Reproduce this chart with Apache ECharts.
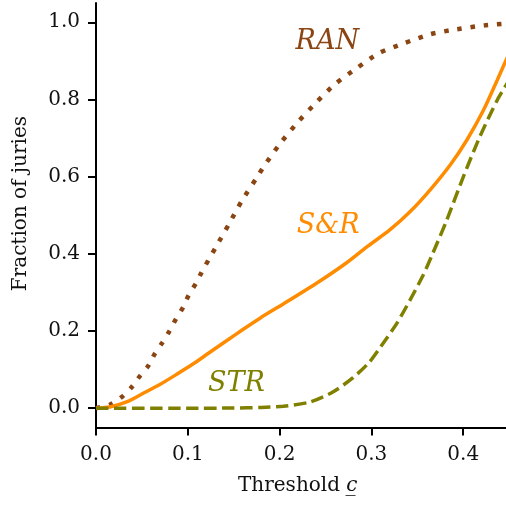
<!DOCTYPE html>
<html>
<head>
<meta charset="utf-8">
<script src="https://cdn.jsdelivr.net/npm/echarts@6/dist/echarts.min.js"></script>
<style>html,body{margin:0;padding:0;background:#fff}#c{width:506px;height:506px}</style>
</head>
<body>
<div id="c"></div>
<script>
const xTicks = [0, 0.1, 0.2, 0.3, 0.4];
const yTicks = [0, 0.2, 0.4, 0.6, 0.8, 1.0];

const ranX = [0, 0.015, 0.028, 0.039, 0.048, 0.057, 0.064, 0.072, 0.080, 0.087, 0.095, 0.101, 0.109, 0.115, 0.123, 0.130, 0.145, 0.159, 0.175, 0.183, 0.200, 0.219, 0.239, 0.260, 0.284, 0.308, 0.336, 0.364, 0.393, 0.423, 0.45];
const ranY = [0, 0.009, 0.029, 0.055, 0.084, 0.110, 0.141, 0.169, 0.200, 0.231, 0.262, 0.293, 0.324, 0.352, 0.386, 0.415, 0.478, 0.538, 0.597, 0.627, 0.684, 0.739, 0.790, 0.839, 0.881, 0.920, 0.946, 0.969, 0.982, 0.992, 0.997];

const srX = [0, 0.015, 0.034, 0.051, 0.070, 0.088, 0.106, 0.124, 0.143, 0.160, 0.179, 0.204, 0.241, 0.273, 0.295, 0.320, 0.342, 0.364, 0.386, 0.404, 0.422, 0.437, 0.45];
const srY = [0, 0.003, 0.017, 0.038, 0.062, 0.088, 0.115, 0.145, 0.176, 0.204, 0.234, 0.270, 0.325, 0.377, 0.418, 0.462, 0.509, 0.566, 0.631, 0.695, 0.772, 0.850, 0.92];

const strX = [0, 0.10, 0.15, 0.18, 0.204, 0.233, 0.258, 0.280, 0.298, 0.313, 0.328, 0.342, 0.356, 0.367, 0.382, 0.400, 0.418, 0.437, 0.45];
const strY = [0, 0, 0.0005, 0.002, 0.005, 0.016, 0.042, 0.079, 0.120, 0.169, 0.221, 0.280, 0.343, 0.402, 0.487, 0.599, 0.703, 0.798, 0.85];

const labelNames = ['RAN', 'S&R', 'STR'];
const labelX = [0.252, 0.253, 0.153];
const labelY = [0.948, 0.472, 0.063];

const colors = ['#8B4513', '#FF8C00', '#808000'];

const pairs = (xs, ys) => xs.map((x, i) => [x, ys[i]]);

const chart = echarts.init(document.getElementById('c'), null, {renderer: 'canvas'});
const serifFont = '"DejaVu Serif", serif';

function labelPoint(i) {
  return {
    symbol: 'rect', symbolSize: 0, silent: true, animation: false,
    data: [{
      coord: [labelX[i], labelY[i]],
      label: {
        show: true, position: 'inside', formatter: labelNames[i],
        fontFamily: serifFont, fontStyle: 'italic', fontSize: 27,
        color: colors[i]
      }
    }]
  };
}

chart.setOption({
  animation: false,
  grid: {left: 96, right: 0, top: 3, bottom: 78.5, containLabel: false},
  xAxis: {
    type: 'value', min: 0, max: 0.4466,
    axisLine: {show: true, onZero: false, lineStyle: {color: '#000', width: 2}},
    axisTick: {show: true, length: 8, lineStyle: {color: '#000', width: 2}, customValues: xTicks},
    axisLabel: {customValues: xTicks, formatter: v => v.toFixed(1), color: '#111', fontFamily: serifFont, fontSize: 20, margin: 17},
    splitLine: {show: false}
  },
  yAxis: {
    type: 'value', min: -0.05, max: 1.05,
    axisLine: {show: true, onZero: false, lineStyle: {color: '#000', width: 2}},
    axisTick: {show: true, length: 8, lineStyle: {color: '#000', width: 2}, customValues: yTicks},
    axisLabel: {customValues: yTicks, formatter: v => v.toFixed(1), color: '#111', fontFamily: serifFont, fontSize: 20, margin: 16},
    splitLine: {show: false}
  },
  graphic: [
    {type: 'text', left: 11, top: 116, rotation: Math.PI / 2, originX: 0, originY: 0,
     style: {text: 'Fraction of juries', fontFamily: serifFont, fontSize: 20, fill: '#111'}},
    {type: 'text', left: 238, top: 476,
     style: {text: '{a|Threshold }{b|c\u0332}', fontFamily: serifFont, fontSize: 20, fill: '#111',
       rich: {a: {fontFamily: serifFont, fontSize: 20, color: '#111'}, b: {fontFamily: serifFont, fontStyle: 'italic', fontSize: 20, color: '#111'}}}}
  ],
  series: [
    {type: 'line', name: 'RAN', data: pairs(ranX, ranY), showSymbol: false, smooth: 0.25,
     lineStyle: {color: colors[0], width: 4.5, type: [4.5, 8.8], cap: 'butt'}, markPoint: labelPoint(0), z: 2},
    {type: 'line', name: 'S&R', data: pairs(srX, srY), showSymbol: false, smooth: 0.25,
     lineStyle: {color: colors[1], width: 3.5}, markPoint: labelPoint(1), z: 3},
    {type: 'line', name: 'STR', data: pairs(strX, strY), showSymbol: false, smooth: 0.25,
     lineStyle: {color: colors[2], width: 3.5, type: [12.5, 5.5], cap: 'butt'}, markPoint: labelPoint(2), z: 4}
  ]
});
</script>
</body>
</html>
